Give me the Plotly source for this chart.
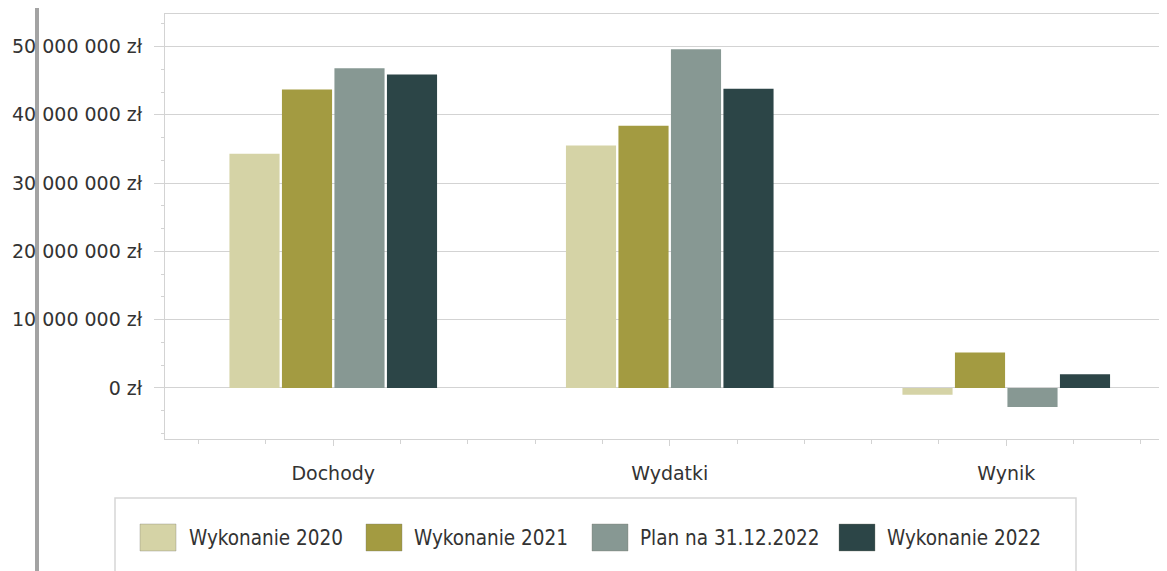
import plotly.graph_objects as go

# ---- data ----
categories = ["Dochody", "Wydatki", "Wynik"]
series_names = ["Wykonanie 2020", "Wykonanie 2021", "Plan na 31.12.2022", "Wykonanie 2022"]
wyk_2020 = [34_300_000, 35_500_000, -1_000_000]
wyk_2021 = [43_700_000, 38_400_000, 5_200_000]
plan_2022 = [46_800_000, 49_600_000, -2_800_000]
wyk_2022 = [45_900_000, 43_800_000, 2_000_000]
series_values = [wyk_2020, wyk_2021, plan_2022, wyk_2022]
colors = ["#d5d3a6", "#a39b41", "#879893", "#2c4547"]

y_tick_values = [0, 10_000_000, 20_000_000, 30_000_000, 40_000_000, 50_000_000]
y_tick_labels = ["0 zł", "10 000 000 zł", "20 000 000 zł", "30 000 000 zł",
                 "40 000 000 zł", "50 000 000 zł"]

# ---- layout constants (page has an 8px body margin) ----
OFF = 8
PAGE_W, PAGE_H = 1167, 571
PLOT_X0, PLOT_Y0, PLOT_Y1 = 165, 14, 439      # page pixel positions of the plot area
W, H = PAGE_W - OFF, PAGE_H - OFF
L, R, T = PLOT_X0 - OFF, 0, PLOT_Y0 - OFF
B = PAGE_H - PLOT_Y1
PW = PAGE_W - PLOT_X0
PH = PLOT_Y1 - PLOT_Y0
GRID = "#d3d3d3"
TXT = "#333333"

cat_pos = list(range(len(categories)))

fig = go.Figure()
for name, vals, col in zip(series_names, series_values, colors):
    fig.add_trace(go.Bar(
        x=cat_pos, y=vals, name=name,
        marker=dict(color=col, line=dict(width=0)),
        showlegend=False,
        hovertemplate="%{y:,.0f} zł<extra>" + name + "</extra>",
    ))


def px_x(px):
    return (px - PLOT_X0) / PW


def px_y(py):
    return (PLOT_Y1 - py) / PH


# manual legend (large swatches like the original)
shapes = []
annotations = []
shapes.append(dict(type="rect", xref="paper", yref="paper",
                   x0=px_x(115), x1=px_x(1076), y0=px_y(580), y1=px_y(498),
                   line=dict(color="#d6d6d6", width=1.5), fillcolor="rgba(0,0,0,0)",
                   layer="above"))
swatch_x = [140, 366, 592, 839]
text_x = [187, 412, 638, 885]
for name, col, sx, tx in zip(series_names, colors, swatch_x, text_x):
    shapes.append(dict(type="rect", xref="paper", yref="paper",
                       x0=px_x(sx), x1=px_x(sx + 36), y0=px_y(551), y1=px_y(524),
                       line=dict(color="rgba(120,120,110,0.35)", width=1),
                       fillcolor=col, layer="above"))
    annotations.append(dict(xref="paper", yref="paper", x=px_x(tx), y=px_y(538),
                            xanchor="left", yanchor="middle", showarrow=False,
                            text=name,
                            font=dict(family="DejaVu Sans Condensed, Liberation Sans Narrow, DejaVu Sans, sans-serif",
                                      size=20.5, color=TXT)))

# scan artefact: vertical grey binding line at the left edge
shapes.append(dict(type="line", xref="paper", yref="paper",
                   x0=px_x(37), x1=px_x(37), y0=px_y(-5), y1=px_y(580),
                   line=dict(color="#a3a3a3", width=4), layer="below"))

fig.update_layout(
    template="none",
    width=W, height=H,
    margin=dict(l=L, r=R, t=T, b=B, pad=0),
    paper_bgcolor="white", plot_bgcolor="white",
    barmode="group", bargap=0.376, bargroupgap=0.045,
    font=dict(family="DejaVu Sans, Verdana, sans-serif", size=19, color=TXT),
    showlegend=False,
    shapes=shapes, annotations=annotations,
    xaxis=dict(
        type="linear", range=[-0.5, -0.5 + PW / 336.5],
        tickmode="array", tickvals=cat_pos, ticktext=categories,
        ticks="outside", ticklen=6, tickcolor=GRID, tickwidth=1,
        ticklabelstandoff=11,
        showgrid=False, zeroline=False,
        showline=True, linecolor=GRID, linewidth=1, mirror=True,
        minor=dict(tick0=0, dtick=0.2, ticks="outside", ticklen=4,
                   tickcolor=GRID, showgrid=False),
        automargin=False, fixedrange=True,
        tickfont=dict(size=19, color=TXT),
    ),
    yaxis=dict(
        range=[-7_470_000, 54_760_000],
        tickmode="array", tickvals=y_tick_values, ticktext=y_tick_labels,
        ticks="outside", ticklen=10, tickcolor=GRID, tickwidth=1,
        ticklabelstandoff=8,
        showgrid=True, gridcolor=GRID, gridwidth=1,
        zeroline=True, zerolinecolor=GRID, zerolinewidth=1,
        showline=True, linecolor=GRID, linewidth=1, mirror=False,
        minor=dict(tick0=0, dtick=10_000_000 / 3, ticks="outside", ticklen=3,
                   tickcolor=GRID, showgrid=False),
        automargin=False, fixedrange=True,
        tickfont=dict(size=19, color=TXT),
    ),
)

fig.write_html("out.html", config={"displayModeBar": False})
